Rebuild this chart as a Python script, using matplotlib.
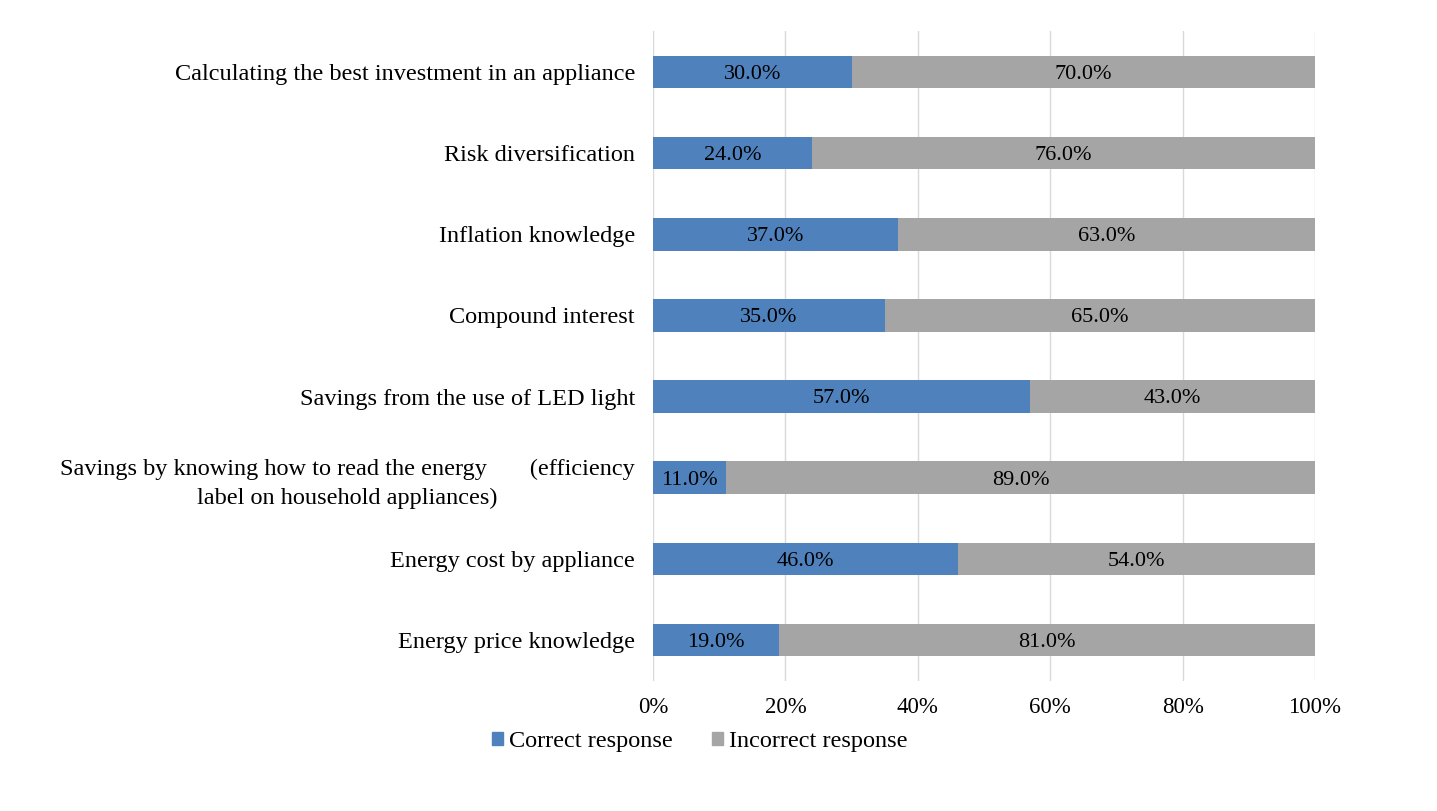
import numpy as np
import matplotlib
matplotlib.use("Agg")
import matplotlib.pyplot as plt
from matplotlib.patches import Patch

# --- Data (top to bottom as shown) ---
categories = [
    "Calculating the best investment in an appliance",
    "Risk diversification",
    "Inflation knowledge",
    "Compound interest",
    "Savings from the use of LED light",
    "Savings by knowing how to read the energy       (efficiency\nlabel on household appliances)",
    "Energy cost by appliance",
    "Energy price knowledge",
]
correct = [30.0, 24.0, 37.0, 35.0, 57.0, 11.0, 46.0, 19.0]
incorrect = [70.0, 76.0, 63.0, 65.0, 43.0, 89.0, 54.0, 81.0]
series_names = ["Correct response", "Incorrect response"]

blue, grey = "#4F81BD", "#A5A5A5"
plt.rcParams['font.family'] = ['Liberation Serif', 'DejaVu Serif']

fig = plt.figure(figsize=(14.37, 8.11), dpi=100)
ax = fig.add_axes([0.4544, 0.1609, 0.4607, 0.8003])

y = np.arange(len(categories))[::-1]
h = 0.4
b1 = ax.barh(y, correct, height=h, color=blue, zorder=3)
b2 = ax.barh(y, incorrect, left=correct, height=h, color=grey, zorder=3)

for vals, lefts in [(correct, [0] * len(correct)), (incorrect, correct)]:
    for yi, v, l in zip(y, vals, lefts):
        ax.text(l + v / 2, yi - 0.03, f"{v:.1f}%", ha="center", va="center",
                fontsize=16, color="black", zorder=4)

ax.set_xlim(0, 100)
ax.set_ylim(-0.5, len(categories) - 0.5)
ax.set_xticks(np.arange(0, 101, 20))
ax.set_xticklabels([f"{t}%" for t in range(0, 101, 20)], fontsize=16.5)
ax.set_yticks(y)
ax.set_yticklabels(categories, fontsize=17.5)
for lab in ax.get_yticklabels():
    lab.set_multialignment("center")
    lab.set_linespacing(1.45)
ax.tick_params(axis="both", length=0)
ax.tick_params(axis="x", pad=12)
ax.tick_params(axis="y", pad=13)
ax.grid(axis="x", color="#D9D9D9", lw=1, zorder=0)
for s in ax.spines.values():
    s.set_visible(False)

handles = [Patch(color=blue), Patch(color=grey)]
fig.legend(handles, series_names, loc="center", bbox_to_anchor=(0.487, 0.086),
           ncol=2, frameon=False, fontsize=17.5, handlelength=0.45, handleheight=0.45,
           handletextpad=0.25, columnspacing=1.6)

fig.savefig("out.png", dpi=100)
